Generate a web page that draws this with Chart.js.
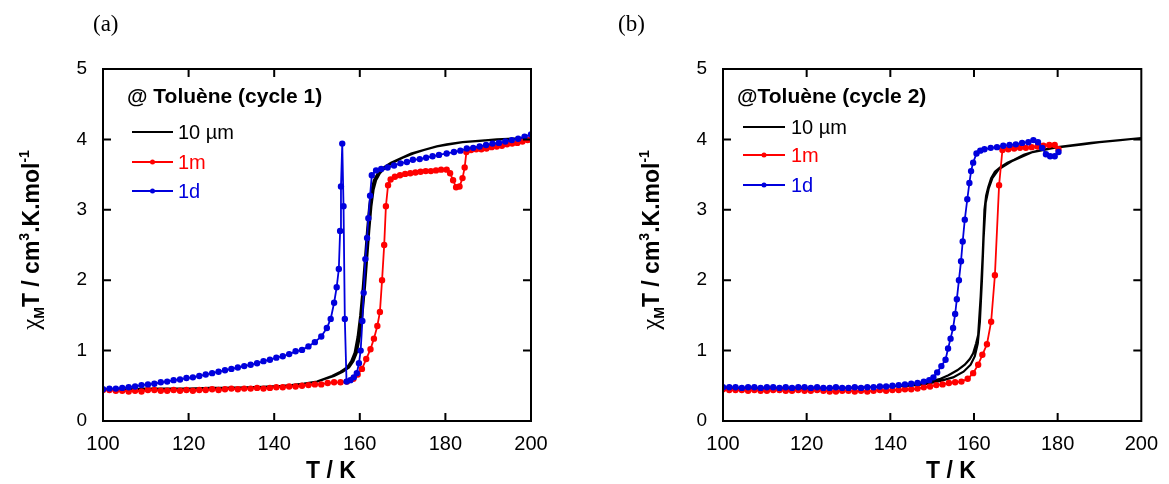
<!DOCTYPE html>
<html>
<head>
<meta charset="utf-8">
<script src="https://cdn.jsdelivr.net/npm/chart.js@4.4.0/dist/chart.umd.min.js"></script>
<style>
  html, body { margin: 0; padding: 0; background: #fff; }
  .panel { position: absolute; top: 0; height: 484px; }
  #panelA { left: 0; width: 584px; }
  #panelB { left: 584px; width: 585px; }
</style>
</head>
<body>
<div class="panel" id="panelA"><canvas id="chartA"></canvas></div>
<div class="panel" id="panelB"><canvas id="chartB"></canvas></div>
<script>
// axis ticks
const xTicks = [100, 120, 140, 160, 180, 200];
const yTicks = [0, 1, 2, 3, 4, 5];
const seriesNames = ['10 µm', '1m', '1d'];

// ---- panel (a), cycle 1 ----
const aBlackUpT = [100,105,110,115,120,125,130,135,140,144,147,150,152,154,156,157.5,158.5,159.3,160,160.6,
  161.2,161.7,162.2,162.7,163.2,163.8,164.7,166,167.8,170,172.5,175,178,180.3,184,188,192,196,200];
const aBlackUpV = [0.45,0.45,0.46,0.46,0.46,0.47,0.47,0.48,0.49,0.51,0.53,0.56,0.60,0.64,0.70,0.76,0.85,0.97,1.2,1.5,
  1.9,2.3,2.7,3.05,3.28,3.42,3.52,3.6,3.67,3.74,3.8,3.85,3.9,3.93,3.96,3.98,4.0,4.01,4.02];
const aBlackDownT = [196,190,184,178,172,167.3,165.5,164.2,163.3,162.7,162.2,161.7,161.2,160.7,160.1,
  159.5,158.8,158,157,155.5,153.5,150,146,142,136,128,120,110,100];
const aBlackDownV = [4.01,3.99,3.96,3.9,3.8,3.67,3.6,3.52,3.42,3.28,3.05,2.7,2.3,1.9,1.5,
  1.2,0.97,0.85,0.76,0.70,0.64,0.56,0.52,0.5,0.48,0.47,0.46,0.45,0.45];

const aRedT = [100,101.5,103,104.5,106,107.5,109,110.5,112,113.5,
  115,116.5,118,119.5,121,122.5,124,125.5,127,128.5,
  130,131.5,133,134.5,136,137.5,139,140.5,142,143.5,
  145,146.5,148,149.5,151,152.5,154,155.5,157,158.5,
  159.5,160.5,161.5,162.5,163.3,164.1,164.7,165.2,165.7,166.1,
  166.6,167.2,168.2,169.4,170.6,171.8,173,174.2,175.4,176.6,
  177.8,179,180.3,181.1,181.8,182.5,183.3,184,184.5,184.9,
  186,187.2,188.4,189.6,190.8,192,193.2,194.4,195.6,196.8,
  198,199.2,200];
const aRedV = [0.44,0.44,0.43,0.43,0.42,0.43,0.42,0.44,0.44,0.43,
  0.43,0.44,0.43,0.44,0.43,0.44,0.44,0.45,0.44,0.45,
  0.46,0.45,0.46,0.46,0.47,0.46,0.47,0.48,0.48,0.49,
  0.49,0.50,0.51,0.52,0.52,0.54,0.55,0.55,0.56,0.60,
  0.66,0.74,0.88,1.02,1.17,1.35,1.55,2.0,2.5,3.05,
  3.35,3.43,3.47,3.49,3.51,3.52,3.53,3.54,3.55,3.55,
  3.56,3.57,3.57,3.52,3.42,3.32,3.33,3.45,3.6,3.82,
  3.85,3.86,3.86,3.87,3.89,3.9,3.91,3.93,3.94,3.95,
  3.97,3.99,4.0];

const aBlueT = [100,101.5,103,104.5,106,107.5,109,110.5,112,113.5,
  115,116.5,118,119.5,121,122.5,124,125.5,127,128.5,
  130,131.5,133,134.5,136,137.5,139,140.5,142,143.5,
  145,146.5,148,149.5,151,152.3,153.2,154,154.6,155.1,
  155.4,155.6,155.9,156.2,156.5,156.9,157.8,158.6,159.3,159.8,
  160.2,160.6,160.9,161.3,161.7,162,162.4,162.8,163.8,165,
  166.5,168,169.5,171,172.4,174,175.5,177,178.5,180.3,
  182,183.5,185,186.5,188,189.5,191,192.5,194,195.5,
  197,198.5,200];
const aBlueV = [0.45,0.46,0.46,0.47,0.48,0.49,0.51,0.52,0.53,0.55,
  0.56,0.58,0.59,0.61,0.62,0.64,0.66,0.68,0.70,0.72,
  0.74,0.76,0.78,0.80,0.82,0.85,0.87,0.90,0.92,0.95,
  0.99,1.01,1.06,1.12,1.20,1.32,1.45,1.68,1.9,2.16,
  2.7,3.33,3.94,3.05,1.45,0.56,0.58,0.62,0.68,0.82,
  1.0,1.42,1.82,2.3,2.6,2.88,3.2,3.49,3.56,3.58,
  3.6,3.63,3.66,3.68,3.71,3.72,3.74,3.76,3.78,3.8,
  3.82,3.84,3.87,3.88,3.9,3.92,3.94,3.95,3.97,3.99,
  4.01,4.04,4.07];

// ---- panel (b), cycle 2 ----
const bBlackUpT = [100,110,120,130,140,145,149.3,152,153.9,156,157.8,159,159.8,160.5,161,
  161.6,162.1,162.5,162.9,163.4,164.1,165,166.4,168,169.6,171.9,174,176,179,182,186,190,195,200];
const bBlackUpV = [0.46,0.46,0.46,0.47,0.49,0.51,0.56,0.6,0.65,0.72,0.8,0.88,0.96,1.1,1.22,
  1.77,2.38,3.0,3.2,3.32,3.45,3.54,3.61,3.67,3.71,3.78,3.82,3.85,3.88,3.9,3.93,3.96,3.99,4.02];
const bBlackDownT = [195,188,180,174,169,166,164.4,163.5,162.8,162.3,161.9,161.4,160.9,160.2,159.2,
  157.5,155,152,148,144,140,130,120,110,100];
const bBlackDownV = [3.99,3.95,3.89,3.82,3.69,3.58,3.45,3.3,3.1,2.6,2.0,1.4,1.1,0.92,0.8,
  0.7,0.62,0.57,0.52,0.5,0.49,0.47,0.46,0.46,0.46];

const bRedT = [100,101.5,103,104.5,106,107.5,109,110.5,112,113.5,
  115,116.5,118,119.5,121,122.5,124,125.5,127,128.5,
  130,131.5,133,134.5,136,137.5,139,140.5,142,143.5,
  145,146.5,148,149.5,151,152.5,154,155.5,157,158.5,
  159.8,161,162,163.1,164.1,165,166,166.8,168.2,169.6,
  171,172.4,173.8,175.2,176.6,178,179.3,180.2];
const bRedV = [0.45,0.44,0.44,0.44,0.43,0.44,0.43,0.43,0.44,0.44,
  0.43,0.43,0.44,0.43,0.43,0.44,0.43,0.42,0.42,0.43,
  0.43,0.42,0.43,0.42,0.43,0.44,0.43,0.44,0.44,0.45,
  0.45,0.46,0.48,0.49,0.51,0.52,0.54,0.55,0.56,0.60,
  0.68,0.80,0.94,1.09,1.41,2.07,3.35,3.85,3.86,3.87,
  3.88,3.88,3.89,3.90,3.91,3.92,3.92,3.86];

const bBlueT = [100,101.5,103,104.5,106,107.5,109,110.5,112,113.5,
  115,116.5,118,119.5,121,122.5,124,125.5,127,128.5,
  130,131.5,133,134.5,136,137.5,139,140.5,142,143.5,
  145,146.5,148,149.3,150.3,151.2,152.2,153.2,153.8,154.4,
  155,155.5,155.9,156.4,156.9,157.3,157.8,158.4,158.9,159.3,
  159.8,160.6,161.5,162.5,164,165.5,167,168.5,170,171.5,
  173,174.2,175.3,176.3,177.2,178.2,179.3,180.2];
const bBlueV = [0.48,0.48,0.48,0.47,0.48,0.48,0.47,0.48,0.48,0.47,
  0.48,0.47,0.48,0.48,0.47,0.48,0.47,0.47,0.48,0.47,
  0.47,0.48,0.47,0.48,0.48,0.49,0.49,0.50,0.51,0.52,
  0.53,0.54,0.56,0.58,0.62,0.69,0.78,0.87,1.03,1.17,
  1.32,1.52,1.73,2.0,2.27,2.55,2.86,3.15,3.38,3.55,
  3.67,3.80,3.84,3.86,3.88,3.89,3.91,3.92,3.93,3.95,
  3.96,3.99,3.96,3.88,3.79,3.76,3.76,3.82];

const FONT = '"Liberation Sans", Arial, sans-serif';
const SERIF = '"Liberation Serif", "Times New Roman", serif';
const BLACK = '#000000';
const RED = '#ff0000';
const BLUE = '#0000dd';

function toPoints(ts, vs) {
  return ts.map((t, i) => ({ x: t, y: vs[i] }));
}

function drawYTitle(ctx, cx, cy) {
  const parts = [
    { t: 'χ', f: '25px ' + SERIF, dy: 0 },
    { t: 'M', f: 'bold 14px ' + FONT, dy: 5 },
    { t: 'T / cm', f: 'bold 23px ' + FONT, dy: 0 },
    { t: '3', f: 'bold 14px ' + FONT, dy: -10 },
    { t: '.K.mol', f: 'bold 23px ' + FONT, dy: 0 },
    { t: '-1', f: 'bold 14px ' + FONT, dy: -10 }
  ];
  ctx.save();
  ctx.translate(cx, cy);
  ctx.rotate(-Math.PI / 2);
  let total = 0;
  parts.forEach(p => { ctx.font = p.f; p.w = ctx.measureText(p.t).width; total += p.w; });
  let pos = -total / 2;
  ctx.fillStyle = '#000';
  ctx.textAlign = 'left';
  ctx.textBaseline = 'alphabetic';
  parts.forEach(p => { ctx.font = p.f; ctx.fillText(p.t, pos, p.dy); pos += p.w; });
  ctx.restore();
}

// frame, inward ticks, titles and legend
const decorPlugin = {
  id: 'decor',
  afterDatasetsDraw(chart, args, o) {
    const { ctx, chartArea: a, scales: { x, y } } = chart;
    ctx.save();
    ctx.strokeStyle = '#000';
    ctx.lineWidth = 2;
    ctx.strokeRect(a.left, a.top, a.right - a.left, a.bottom - a.top);
    ctx.beginPath();
    xTicks.slice(1, -1).forEach(v => {
      const px = x.getPixelForValue(v);
      ctx.moveTo(px, a.bottom); ctx.lineTo(px, a.bottom - 8);
      ctx.moveTo(px, a.top); ctx.lineTo(px, a.top + 8);
    });
    yTicks.slice(1, -1).forEach(v => {
      const py = y.getPixelForValue(v);
      ctx.moveTo(a.left, py); ctx.lineTo(a.left + 8, py);
      ctx.moveTo(a.right, py); ctx.lineTo(a.right - 8, py);
    });
    ctx.stroke();

    // panel label
    ctx.fillStyle = '#000';
    ctx.font = '23px ' + SERIF;
    ctx.textAlign = 'left';
    ctx.textBaseline = 'middle';
    ctx.fillText(o.panel, o.panelX, 25);

    // x title
    ctx.font = 'bold 23px ' + FONT;
    ctx.textAlign = 'center';
    ctx.fillText('T / K', a.left + 228, 472);

    drawYTitle(ctx, a.left - 64, 240);

    // legend
    const lg = o.legend;
    ctx.textAlign = 'left';
    ctx.font = 'bold 21px ' + FONT;
    ctx.fillText(lg.title, a.left + lg.titleX, 97);
    const colors = [BLACK, RED, BLUE];
    lg.rows.forEach((ry, i) => {
      const x0 = a.left + lg.lineX0, x1 = a.left + lg.lineX1;
      ctx.strokeStyle = colors[i];
      ctx.lineWidth = 2;
      ctx.beginPath(); ctx.moveTo(x0, ry); ctx.lineTo(x1, ry); ctx.stroke();
      if (i > 0) {
        ctx.fillStyle = colors[i];
        ctx.beginPath(); ctx.arc((x0 + x1) / 2, ry, 2.5, 0, Math.PI * 2); ctx.fill();
      }
      ctx.fillStyle = colors[i];
      ctx.font = '20px ' + FONT;
      ctx.fillText(seriesNames[i], a.left + lg.textX, ry + 1);
    });
    ctx.restore();
  }
};

function makeChart(canvasId, o) {
  const ctx = document.getElementById(canvasId).getContext('2d');
  return new Chart(ctx, {
    type: 'scatter',
    data: {
      datasets: [
        { label: seriesNames[2], data: o.blue, showLine: true, borderColor: BLUE, backgroundColor: BLUE,
          borderWidth: 1.8, pointRadius: 2.3, pointHoverRadius: 2.3 },
        { label: seriesNames[1], data: o.red, showLine: true, borderColor: RED, backgroundColor: RED,
          borderWidth: 1.8, pointRadius: 2.3, pointHoverRadius: 2.3 },
        { label: seriesNames[0], data: o.black, showLine: true, borderColor: BLACK, backgroundColor: BLACK,
          borderWidth: 2.2, pointRadius: 0 }
      ]
    },
    options: {
      responsive: true,
      maintainAspectRatio: false,
      animation: false,
      events: [],
      layout: { padding: { left: 0, right: o.padRight, top: 69, bottom: 0 } },
      plugins: {
        legend: { display: false },
        tooltip: { enabled: false },
        decor: { panel: o.panel, panelX: o.panelX, legend: o.legend }
      },
      scales: {
        x: {
          type: 'linear', min: 100, max: 200,
          ticks: { stepSize: 20, color: '#000', padding: 11, font: { family: FONT, size: 20 } },
          grid: { display: false, drawTicks: false },
          border: { display: false },
          afterFit: s => { s.height = 63; }
        },
        y: {
          type: 'linear', min: 0, max: 5,
          ticks: { stepSize: 1, color: '#000', padding: 16, font: { family: FONT, size: 19 } },
          grid: { display: false, drawTicks: false },
          border: { display: false },
          afterFit: s => { s.width = o.yWidth; }
        }
      }
    },
    plugins: [decorPlugin]
  });
}

makeChart('chartA', {
  panel: '(a)', panelX: 93, yWidth: 103, padRight: 53,
  black: toPoints(aBlackUpT, aBlackUpV).concat(toPoints(aBlackDownT, aBlackDownV)),
  red: toPoints(aRedT, aRedV),
  blue: toPoints(aBlueT, aBlueV),
  legend: { title: '@ Toluène (cycle 1)', titleX: 24, lineX0: 29, lineX1: 70, textX: 75, rows: [132, 162, 191] }
});

makeChart('chartB', {
  panel: '(b)', panelX: 34, yWidth: 139, padRight: 19,
  black: toPoints(bBlackUpT, bBlackUpV).concat(toPoints(bBlackDownT, bBlackDownV)),
  red: toPoints(bRedT, bRedV),
  blue: toPoints(bBlueT, bBlueV),
  legend: { title: '@Toluène (cycle 2)', titleX: 14, lineX0: 20, lineX1: 62, textX: 68, rows: [127, 155, 185] }
});
</script>
</body>
</html>
